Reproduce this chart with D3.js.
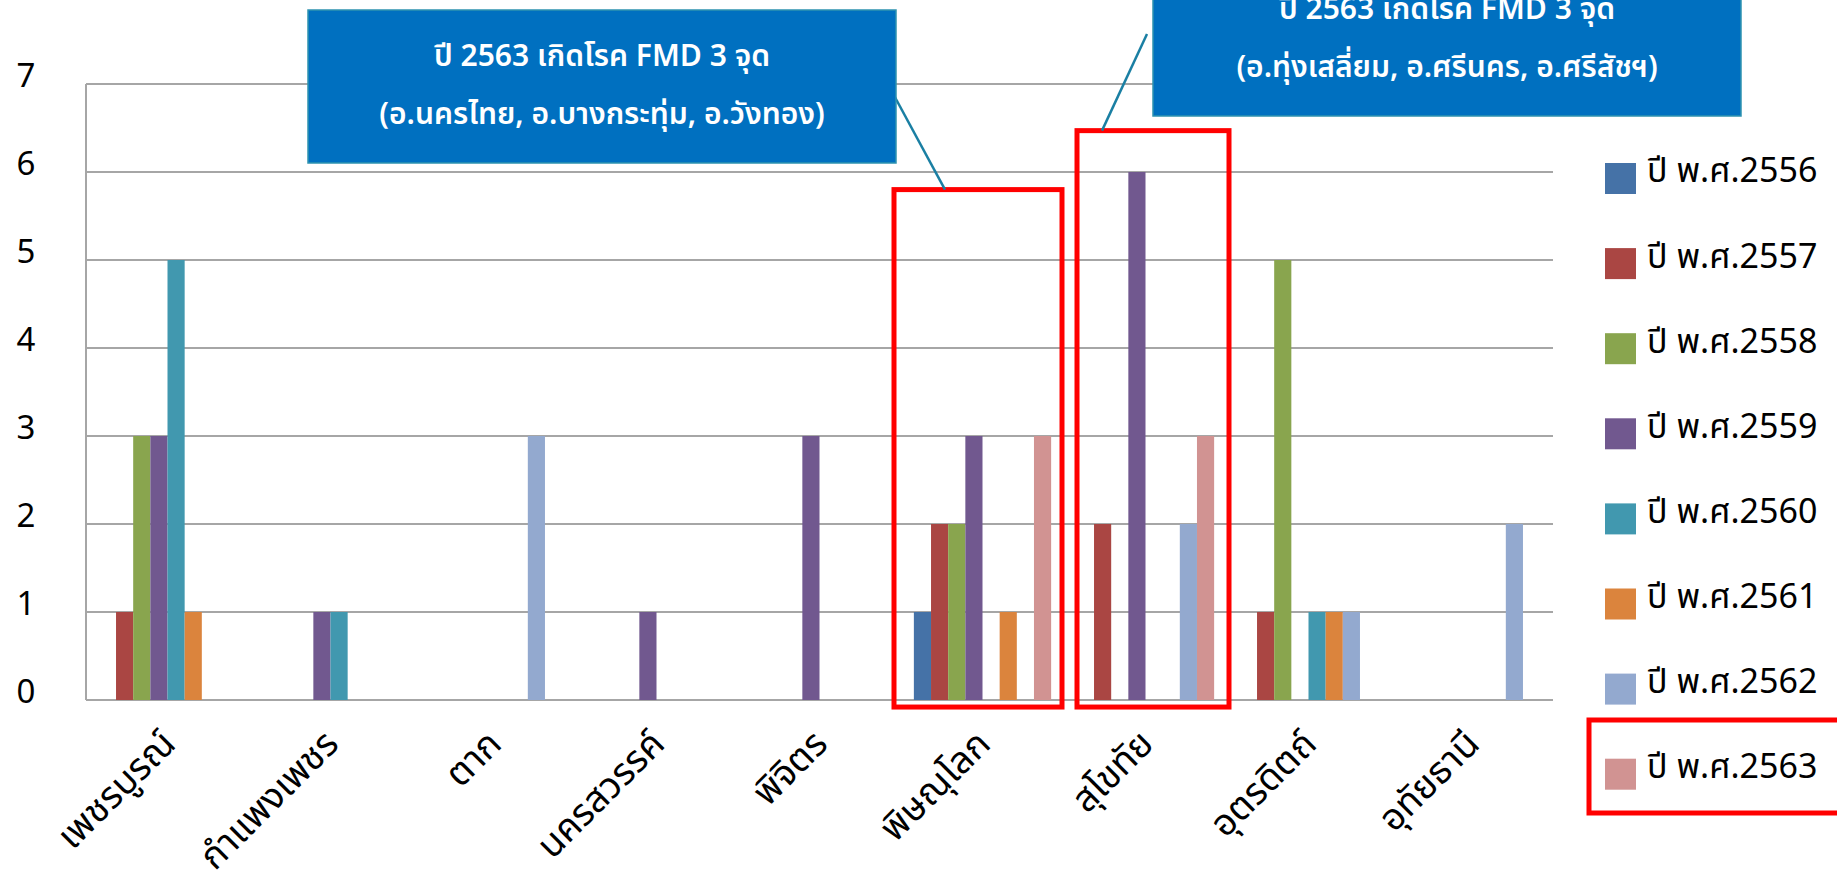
<!DOCTYPE html>
<html>
<head>
<meta charset="utf-8">
<script src="https://cdn.jsdelivr.net/npm/d3@7"></script>
<style>
  body { margin: 0; background: #fff; }
  text { font-family: "Noto Sans Thai", "Loma", "Garuda", "Tlwg Typo", "DejaVu Sans Condensed", "Liberation Sans Narrow", sans-serif; }
</style>
</head>
<body>
<div id="container"></div>
<script>
// provinces on the x axis
const provinces = ["เพชรบูรณ์", "กำแพงเพชร", "ตาก", "นครสวรรค์", "พิจิตร", "พิษณุโลก", "สุโขทัย", "อุตรดิตถ์", "อุทัยธานี"];
const years = ["ปี พ.ศ.2556", "ปี พ.ศ.2557", "ปี พ.ศ.2558", "ปี พ.ศ.2559", "ปี พ.ศ.2560", "ปี พ.ศ.2561", "ปี พ.ศ.2562", "ปี พ.ศ.2563"];
const colors = ["#4572A7", "#AA4643", "#89A54E", "#71588F", "#4198AF", "#DB843D", "#93A9CF", "#D19392"];

// outbreaks per year, one value per province
const y2556 = [0, 0, 0, 0, 0, 1, 0, 0, 0];
const y2557 = [1, 0, 0, 0, 0, 2, 2, 1, 0];
const y2558 = [3, 0, 0, 0, 0, 2, 0, 5, 0];
const y2559 = [3, 1, 0, 1, 3, 3, 6, 0, 0];
const y2560 = [5, 1, 0, 0, 0, 0, 0, 1, 0];
const y2561 = [1, 0, 0, 0, 0, 1, 0, 1, 0];
const y2562 = [0, 0, 3, 0, 0, 0, 2, 1, 2];
const y2563 = [0, 0, 0, 0, 0, 3, 3, 0, 0];
const yTicks = [0, 1, 2, 3, 4, 5, 6, 7];

const notes = [
  { lines: ["ปี 2563 เกิดโรค FMD 3 จุด", "(อ.นครไทย, อ.บางกระทุ่ม, อ.วังทอง)"], province: "พิษณุโลก", boxTop: 5.8 },
  { lines: ["ปี 2563 เกิดโรค FMD 3 จุด", "(อ.ทุ่งเสลี่ยม, อ.ศรีนคร, อ.ศรีสัชฯ)"], province: "สุโขทัย", boxTop: 6.47 },
];

const series = [y2556, y2557, y2558, y2559, y2560, y2561, y2562, y2563];

const width = 1837, height = 882;
const mLeft = 86, mRight = 1553, mTop = 84, mBottom = 700;

const svg = d3.select("#container").append("svg")
  .attr("width", width).attr("height", height);
svg.append("rect").attr("width", width).attr("height", height).attr("fill", "#fff");

const x = d3.scaleBand().domain(provinces).range([mLeft, mRight]);
const inner = d3.scaleBand().domain(d3.range(years.length))
  .range([0, x.bandwidth()]).paddingInner(0).paddingOuter(0.75);
const y = d3.scaleLinear().domain([0, 7]).range([mBottom, mTop]);

// gridlines
svg.append("g").selectAll("line").data(yTicks).join("line")
  .attr("x1", mLeft).attr("x2", mRight)
  .attr("y1", d => y(d)).attr("y2", d => y(d))
  .attr("stroke", "#a6a6a6").attr("stroke-width", 2);
svg.append("line").attr("x1", mLeft).attr("x2", mLeft)
  .attr("y1", y(7)).attr("y2", y(0))
  .attr("stroke", "#a6a6a6").attr("stroke-width", 2);

svg.append("g").selectAll("text").data(yTicks).join("text")
  .attr("x", 26).attr("y", d => y(d) - 6)
  .attr("text-anchor", "middle").attr("dominant-baseline", "middle")
  .attr("font-size", 33).attr("fill", "#000")
  .text(d => d);

// bars
series.forEach((vals, i) => {
  svg.append("g").selectAll("rect").data(vals).join("rect")
    .attr("x", (d, j) => x(provinces[j]) + inner(i))
    .attr("width", inner.bandwidth())
    .attr("y", d => y(d))
    .attr("height", d => y(0) - y(d))
    .attr("fill", colors[i]);
});

// x labels
svg.append("g").selectAll("text").data(provinces).join("text")
  .attr("transform", d => `translate(${x(d) + x.bandwidth() / 2 + 10},${mBottom + 46}) rotate(-45)`)
  .attr("text-anchor", "end")
  .attr("font-size", 37).attr("fill", "#000")
  .text(d => d);

// red highlight boxes
const boxes = [
  { x0: x("พิษณุโลก") - 7, x1: x("พิษณุโลก") + x.bandwidth() - 2, boxTop: notes[0].boxTop },
  { x0: x("สุโขทัย") + 13, x1: x("สุโขทัย") + x.bandwidth() + 2, boxTop: notes[1].boxTop },
];
svg.append("g").selectAll("rect").data(boxes).join("rect")
  .attr("x", d => d.x0).attr("y", d => y(d.boxTop))
  .attr("width", d => d.x1 - d.x0).attr("height", d => y(-0.08) - y(d.boxTop))
  .attr("fill", "none").attr("stroke", "#ff0000").attr("stroke-width", 5);

// callouts
const callouts = [
  { x: 308, y: 10, w: 588, h: 153, tx: 890, ty: 88, px: 945, py: y(notes[0].boxTop) },
  { x: 1153, y: -37, w: 588, h: 153, tx: 1147, ty: 34, px: 1102, py: y(notes[1].boxTop) },
];
callouts.forEach((c, i) => {
  svg.append("line").attr("x1", c.tx).attr("y1", c.ty).attr("x2", c.px).attr("y2", c.py)
    .attr("stroke", "#1a7fa3").attr("stroke-width", 2.5);
  svg.append("rect").attr("x", c.x).attr("y", c.y).attr("width", c.w).attr("height", c.h)
    .attr("fill", "#0070C0").attr("stroke", "#2e93b0").attr("stroke-width", 1.5);
  notes[i].lines.forEach((t, k) => {
    svg.append("text").attr("x", c.x + c.w / 2).attr("y", c.y + c.h / 2 - 29 + k * 58)
      .attr("text-anchor", "middle").attr("dominant-baseline", "middle")
      .attr("font-size", 30).attr("font-weight", 600).attr("fill", "#fff")
      .text(t);
  });
});

// legend
const legend = svg.append("g").selectAll("g").data(years).join("g")
  .attr("transform", (d, i) => `translate(1605,${179 + i * 85.1})`);
legend.append("rect").attr("x", 0).attr("y", -16).attr("width", 31).attr("height", 31)
  .attr("fill", (d, i) => colors[i]);
legend.append("text").attr("x", 42).attr("y", -6)
  .attr("dominant-baseline", "middle").attr("font-size", 34).attr("fill", "#000")
  .text(d => d);

svg.append("rect").attr("x", 1589).attr("y", 720).attr("width", 260).attr("height", 93)
  .attr("fill", "none").attr("stroke", "#ff0000").attr("stroke-width", 5);
</script>
</body>
</html>
